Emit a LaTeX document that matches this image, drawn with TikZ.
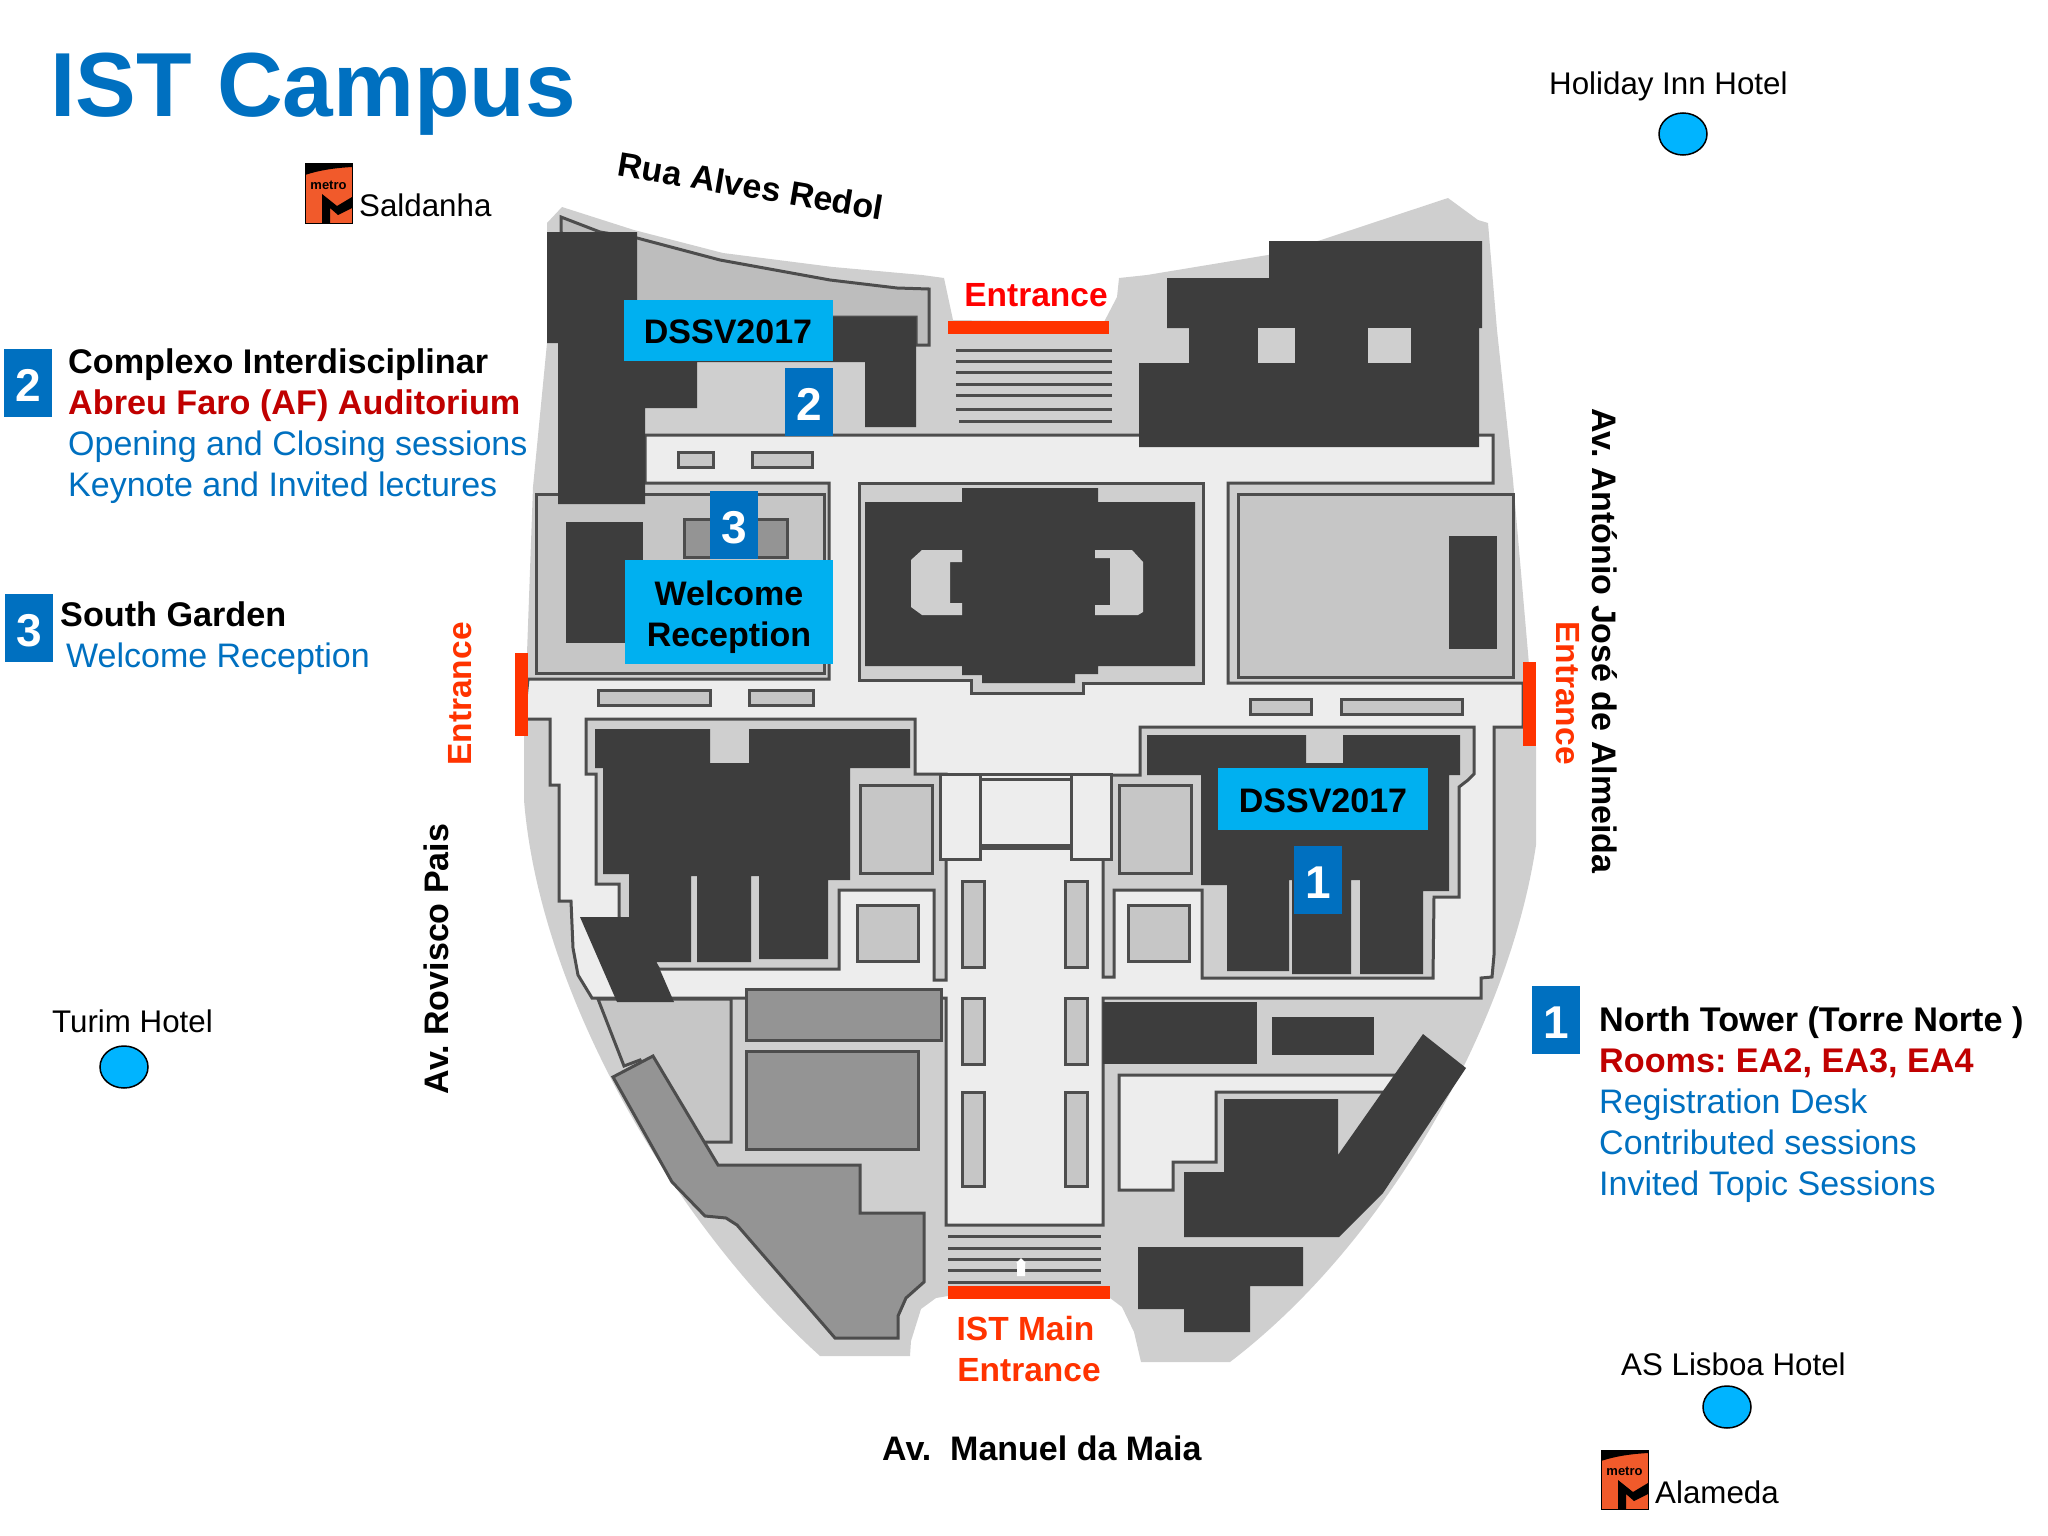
\documentclass[tikz,border=0pt]{standalone}
\usepackage{fontspec}
\setmainfont{Liberation Sans}
\usepackage{tikz}
\usetikzlibrary{positioning}
\usetikzlibrary{calc}
\frenchspacing

\definecolor{GroundCol}{HTML}{CFCFCF}
\definecolor{RoadCol}{HTML}{EDEDED}
\definecolor{LawnCol}{HTML}{C6C6C6}
\definecolor{WedgeCol}{HTML}{BDBDBD}
\definecolor{BuildCol}{HTML}{3D3D3D}
\definecolor{AnnexCol}{HTML}{949494}
\definecolor{EdgeCol}{HTML}{4D4D4D}
\definecolor{TagCol}{HTML}{00B0F0}
\definecolor{NumCol}{HTML}{0070C0}
\definecolor{BarCol}{HTML}{FF3300}
\definecolor{RoomCol}{HTML}{C00000}
\definecolor{HotelCol}{HTML}{00B4FF}
\definecolor{MetroCol}{HTML}{F15A2B}

\tikzset{
	Walled/.style={draw=EdgeCol, line width=3pt, line join=miter},
	Road/.style={Walled, fill=RoadCol},
	Block/.style={Walled, fill=GroundCol},
	Lawn/.style={Walled, fill=LawnCol},
	Annex/.style={Walled, fill=AnnexCol},
	Hollow/.style={fill=GroundCol},
	Bar/.style={fill=BarCol},
	Tag/.style={fill=TagCol, inner sep=0pt, align=center, font=\fontsize{34}{41}\selectfont\bfseries},
	NumBox/.style={fill=NumCol, text=white, inner sep=0pt, minimum width=48pt, minimum height=68pt, text height=37pt, text depth=0pt, font=\fontsize{46}{46}\selectfont\bfseries},
	Small/.style={anchor=base west, inner sep=0pt, font=\fontsize{31.3}{36}\selectfont},
	Street/.style={inner sep=0pt, font=\fontsize{34}{41}\selectfont\bfseries},
	Gate/.style={inner sep=0pt, align=center, text=BarCol, font=\fontsize{33.5}{41}\selectfont\bfseries},
	Head/.style={anchor=base west, inner sep=0pt, font=\fontsize{34.2}{41}\selectfont\bfseries},
	Room/.style={Head, text=RoomCol},
	Item/.style={anchor=base west, inner sep=0pt, text=NumCol, font=\fontsize{34}{41}\selectfont},
	Hotel/.style={draw=black, line width=1.5pt, fill=HotelCol},
}

% the metro sign: top left corner at (#1), text node called #2
\newcommand{\MetroSign}[2]{
	\begin{scope}[shift={(#1)}]
		\fill[MetroCol] (0,0) rectangle (47,59);
		\fill[black] (0,0) -- (47,0) -- (47,3) .. controls (30,4) and (15,6) .. (0,11) -- cycle;
		\fill[black] (17,30) -- (32,42) -- (47,33) -- (47,44) -- (33,51) -- (25,44) -- (25,59) -- (17,59) -- cycle;
		\draw[black, line width=1pt] (0,0) rectangle (47,59);
		\node[inner sep=0pt, font=\fontsize{13}{13}\selectfont\bfseries] (#2) at (23.5,21) {metro};
	\end{scope}
}

\begin{document}
\begin{tikzpicture}[x=1pt, y=-1pt]
	
	\useasboundingbox (0,0) rectangle (2048,1536);
	
	% Ground of the whole campus
	\fill[GroundCol] (562,207) -- (547,223) -- (547,343) -- (533,487) -- (527,653) -- (524,736) -- (524,800)
		.. controls (540,1000) and (680,1230) .. (820,1356)
		-- (910,1356) -- (911,1341) -- (921,1309) -- (936,1298) -- (948,1296) -- (1110,1298) -- (1122,1307)
		-- (1134,1332) -- (1141,1362) -- (1230,1362)
		.. controls (1390,1240) and (1510,1020) .. (1536,845)
		-- (1536,747) -- (1528,653) -- (1513,480) -- (1497,330)
		-- (1488,223) -- (1478,220) -- (1448,198) -- (1321,240) -- (1268,255) -- (1147,275) -- (1119,278)
		-- (1117,297) -- (1104,322) -- (953,320) -- (944,278) -- (922,275) -- (833,267) -- (723,253) -- (634,230) -- cycle;
	
	% Wedge behind the top left building
	\draw[Walled, fill=WedgeCol] (561,232) -- (561,217) -- (600,232) -- (637,238) -- (720,260) -- (830,280) -- (897,288) -- (929,289)
		-- (929,345) -- (916,345) -- (916,317) -- (637,317) -- cycle;
	
	% Roads, all in one piece
	\draw[Road] (645,435) -- (1493,435) -- (1493,483) -- (1228,483) -- (1228,683) -- (1523,683) -- (1523,727)
		-- (1494,727) -- (1494,955) -- (1492,977) -- (1481,978) -- (1481,998) -- (1103,998) -- (1103,1225)
		-- (946,1225) -- (946,998) -- (592,998) -- (578,975) -- (573,948) -- (571,901) -- (559,901)
		-- (559,785) -- (550,785) -- (550,719) -- (524,719) -- (528,679) -- (829,679) -- (829,483) -- (645,483) -- cycle;
	
	% Blocks on either side of the roads
	\draw[Block] (586,719) -- (915,719) -- (915,774) -- (946,774) -- (946,980) -- (934,980) -- (934,890) -- (839,890)
		-- (839,969) -- (659,969) -- (619,917) -- (619,884) -- (596,884) -- (596,774) -- (586,774) -- cycle;
	\draw[Block] (1140,727) -- (1474,727) -- (1474,774) -- (1468,780) -- (1459,787) -- (1459,897) -- (1434,897)
		-- (1433,978) -- (1202,978) -- (1202,890) -- (1114,890) -- (1114,977) -- (1103,977) -- (1103,859)
		-- (1111,859) -- (1111,775) -- (1140,775) -- cycle;
	\draw[Block] (859,483) -- (1203,483) -- (1203,683) -- (1083,683) -- (1083,693) -- (971,693) -- (971,680) -- (859,680) -- cycle;
	
	% Top left garden
	\draw[Lawn] (536,494) rectangle (824,673);
	\draw[Annex] (684,519) rectangle (787,557);
	\fill[BuildCol] (566,522) rectangle (643,643);
	
	% Top right garden
	\draw[Lawn] (1238,494) rectangle (1513,677);
	\fill[BuildCol] (1449,536) rectangle (1497,649);
	
	% Small beds along the roads
	\draw[Lawn] (678,452) rectangle (713,467);
	\draw[Lawn] (752,452) rectangle (812,467);
	\draw[Lawn] (598,690) rectangle (710,705);
	\draw[Lawn] (749,690) rectangle (813,705);
	\draw[Lawn] (1250,699) rectangle (1311,714);
	\draw[Lawn] (1341,699) rectangle (1462,714);
	
	% Squares beside the plaza
	\draw[Lawn] (860,785) rectangle (932,873);
	\draw[Lawn] (1119,785) rectangle (1191,873);
	\draw[Lawn] (857,905) rectangle (918,961);
	\draw[Lawn] (1128,905) rectangle (1189,961);
	
	% Portico at the head of the plaza
	\draw[Road] (940,774) rectangle (980,859);
	\draw[Road] (1071,774) rectangle (1111,859);
	\draw[Road] (980,779) rectangle (1071,845);
	\draw[EdgeCol, line width=3pt] (980,774) -- (1071,774);
	\draw[EdgeCol, line width=5pt] (980,847) -- (1071,847);
	
	% Pedestals in the plaza
	\draw[Lawn] (962,881) rectangle (984,967);
	\draw[Lawn] (962,998) rectangle (984,1064);
	\draw[Lawn] (962,1092) rectangle (984,1186);
	\draw[Lawn] (1065,881) rectangle (1087,967);
	\draw[Lawn] (1065,998) rectangle (1087,1064);
	\draw[Lawn] (1065,1092) rectangle (1087,1186);
	
	% Steps, top then bottom
	\draw[EdgeCol, line width=3pt] (956,350) -- (1112,350) (956,361) -- (1112,361) (956,372) -- (1112,372) (956,384) -- (1112,384)
		(956,395) -- (1112,395) (956,409) -- (1112,409) (959,421) -- (1112,421);
	\draw[EdgeCol, line width=3pt] (948,1236) -- (1101,1236) (948,1248) -- (1101,1248) (948,1259) -- (1101,1259)
		(948,1270) -- (1101,1270) (948,1282) -- (1101,1282);
	\fill[white] (1021,1258) -- (1026,1263) -- (1025,1263) -- (1025,1276) -- (1017,1276) -- (1017,1263) -- (1016,1263) -- cycle;
	
	% Yard and annexes at the bottom left
	\draw[Lawn] (598,999) -- (731,999) -- (731,1142) -- (700,1142) -- (640,1060) -- (624,1066) -- cycle;
	\draw[Annex] (746,989) rectangle (941,1040);
	\draw[Annex] (746,1051) rectangle (918,1149);
	\draw[Annex] (613,1077) -- (653,1056) -- (718,1165) -- (860,1165) -- (860,1213) -- (924,1213) -- (924,1282) -- (906,1298)
		-- (898,1316) -- (898,1338) -- (835,1338) -- (737,1225) -- (726,1218) -- (705,1216) -- (672,1182) -- cycle;
	
	% Yard at the bottom right
	\draw[Road] (1119,1075) -- (1400,1075) -- (1390,1092) -- (1216,1092) -- (1216,1162) -- (1173,1162) -- (1173,1190) -- (1119,1190) -- cycle;
	
	% Buildings
	\fill[BuildCol] (547,232) -- (637,232) -- (637,317) -- (916,317) -- (916,427) -- (865,427) -- (865,362) -- (697,362)
		-- (697,408) -- (645,408) -- (645,504) -- (558,504) -- (558,343) -- (547,343) -- cycle;
	\fill[BuildCol] (1269,241) -- (1482,241) -- (1482,328) -- (1479,328) -- (1479,447) -- (1139,447) -- (1139,363)
		-- (1189,363) -- (1189,328) -- (1167,328) -- (1167,278) -- (1269,278) -- cycle;
	\fill[GroundCol] (1258,328) rectangle (1295,363);
	\fill[GroundCol] (1368,328) rectangle (1411,363);
	
	\fill[BuildCol] (865,502) -- (962,502) -- (962,488) -- (1098,488) -- (1098,502) -- (1195,502) -- (1195,666) -- (1098,666)
		-- (1098,674) -- (1075,674) -- (1075,683) -- (982,683) -- (982,675) -- (962,675) -- (962,666) -- (865,666) -- cycle;
	\fill[Hollow] (962,550) -- (922,550) -- (911,560) -- (911,607) -- (922,615) -- (962,615) -- (962,603) -- (950,603)
		-- (950,562) -- (962,562) -- cycle;
	\fill[Hollow] (1095,550) -- (1132,550) -- (1143,562) -- (1143,612) -- (1138,615) -- (1095,615) -- (1095,605) -- (1110,605)
		-- (1110,558) -- (1095,558) -- cycle;
	
	\fill[BuildCol] (595,729) -- (710,729) -- (710,763) -- (749,763) -- (749,729) -- (910,729) -- (910,768) -- (850,768)
		-- (850,880) -- (828,880) -- (828,959) -- (759,959) -- (759,876) -- (751,876) -- (751,962) -- (697,962) -- (697,876)
		-- (691,876) -- (691,962) -- (650,962) -- (629,917) -- (629,874) -- (603,874) -- (603,768) -- (595,768) -- cycle;
	\fill[BuildCol] (580,917) -- (637,917) -- (674,1002) -- (617,1002) -- cycle;
	
	\fill[BuildCol] (1147,735) -- (1306,735) -- (1306,763) -- (1343,763) -- (1343,735) -- (1460,735) -- (1460,775) -- (1449,775)
		-- (1449,891) -- (1423,891) -- (1423,974) -- (1360,974) -- (1360,880) -- (1351,880) -- (1351,974) -- (1292,974)
		-- (1292,880) -- (1289,880) -- (1289,971) -- (1227,971) -- (1227,885) -- (1201,885) -- (1201,775) -- (1147,775) -- cycle;
	
	\fill[BuildCol] (1103,1002) rectangle (1257,1064);
	\fill[BuildCol] (1272,1017) rectangle (1374,1055);
	\fill[BuildCol] (1423,1034) -- (1466,1068) -- (1383,1193) -- (1339,1237) -- (1184,1237) -- (1184,1172) -- (1224,1172)
		-- (1224,1099) -- (1338,1099) -- (1338,1155) -- cycle;
	\fill[BuildCol] (1138,1247) -- (1303,1247) -- (1303,1286) -- (1250,1286) -- (1250,1332) -- (1184,1332) -- (1184,1309) -- (1138,1309) -- cycle;
	
	% Entrance bars
	\fill[Bar] (948,321) rectangle (1109,334);
	\fill[Bar] (948,1286) rectangle (1110,1299);
	\fill[Bar] (515,653) rectangle (528,736);
	\fill[Bar] (1523,662) rectangle (1536,746);
	
	% Labels on the map
	\node[Tag, minimum width=209pt, minimum height=61pt] (DSSVTop) at (728,330) {\rule{0pt}{28pt}DSSV2017};
	\node[Tag, minimum width=210pt, minimum height=62pt] (DSSVLow) at (1323,799) {\rule{0pt}{28pt}DSSV2017};
	\node[Tag, minimum width=208pt, minimum height=104pt] (WelcomeTag) at (729,612) {\rule{0pt}{35pt}Welcome\\Reception};
	\node[NumBox] (Map2) at (809,402) {2};
	\node[NumBox] (Map3) at (734,525) {3};
	\node[NumBox] (Map1) at (1318,880) {1};
	
	\node[Gate, text=red] (EntTop) at (1036,295) {Entrance};
	\node[Gate, rotate=90] (EntLeft) at (460,694) {Entrance};
	\node[Gate, rotate=-90] (EntRight) at (1568,693) {Entrance};
	\node[Gate] (EntMain) at (1029,1349) {IST Main\hspace*{7pt}\\Entrance};
	
	% Streets
	\node[Street, rotate=-9.5] (RuaAlves) at (751,186) {Rua Alves Redol};
	\node[Street, rotate=90] (AvRovisco) at (436,959) {Av. Rovisco Pais};
	\node[Street, rotate=-90] (AvAntonio) at (1605,641) {Av. António José de Almeida};
	\node[Street, anchor=base west] (AvManuel) at (882,1460) {Av.\ \ Manuel da Maia};
	
	% Title
	\node[anchor=base west, inner sep=0pt, text=NumCol, font=\fontsize{91}{91}\selectfont\bfseries] (Title) at (50,117) {IST Campus};
	
	% Hotels and metro stations
	\node[Small] (Holiday) at (1549,95) {Holiday Inn Hotel};
	\draw[Hotel] (1683,134) ellipse [x radius=24pt, y radius=21pt];
	\node[Small] (ASLisboa) at (1621,1375) {AS Lisboa Hotel};
	\draw[Hotel] (1727,1407) ellipse [x radius=24pt, y radius=21pt];
	\node[Small] (Turim) at (52,1032) {Turim Hotel};
	\draw[Hotel] (124,1067) ellipse [x radius=24pt, y radius=21pt];
	
	\MetroSign{305,164}{MetroA}
	\node[Small] (Saldanha) at (359,216) {Saldanha};
	\MetroSign{1601,1450}{MetroB}
	\node[Small] (Alameda) at (1655,1503) {Alameda};
	
	% Legend
	\node[NumBox] (Key1) at (1556,1020) {1};
	\node[Head] (Key1A) at (1599,1031) {North Tower (Torre Norte )};
	\node[Room] (Key1B) at (1599,1072) {Rooms: EA2, EA3, EA4};
	\node[Item] (Key1C) at (1599,1113) {Registration Desk};
	\node[Item] (Key1D) at (1599,1154) {Contributed sessions};
	\node[Item] (Key1E) at (1599,1195) {Invited Topic Sessions};
	
	\node[NumBox] (Key2) at (28,383) {2};
	\node[Head] (Key2A) at (68,373) {Complexo Interdisciplinar};
	\node[Room] (Key2B) at (68,414) {Abreu Faro (AF) Auditorium};
	\node[Item] (Key2C) at (68,455) {Opening and Closing sessions};
	\node[Item] (Key2D) at (68,496) {Keynote and Invited lectures};
	
	\node[NumBox] (Key3) at (29,628) {3};
	\node[Head] (Key3A) at (60,626) {South Garden};
	\node[Item] (Key3B) at (66,667) {Welcome Reception};
	
\end{tikzpicture}
\end{document}
